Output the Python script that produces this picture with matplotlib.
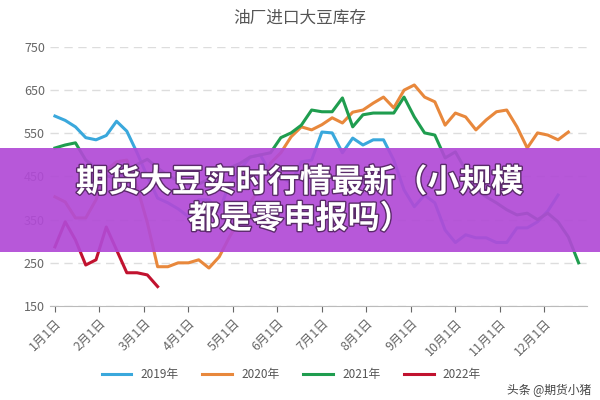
import matplotlib
matplotlib.use("Agg")
import matplotlib.pyplot as plt
from matplotlib.patches import Rectangle
import matplotlib.patheffects as pe
import numpy as np

plt.rcParams['font.family'] = ['Noto Sans CJK SC', 'DejaVu Sans']

months = [f"{i}月1日" for i in range(1, 13)]
s2019 = [590,580,565,540,535,545,578,555,505,450,400,389,375,357,396,396,368,435,465,495,500,458,449,435,484,488,553,551,505,539,523,535,535,488,419,380,407,389,326,297,315,308,308,297,297,331,331,345,370,407]
s2020 = [403,391,354,354,396,465,484,488,426,343,241,241,250,250,257,238,264,310,350,389,426,481,505,542,565,558,570,586,574,599,604,620,634,609,650,662,634,623,569,597,588,558,581,600,604,565,516,551,546,535,553]
s2021 = [516,523,528,488,470,452,445,460,478,490,470,452,440,430,432,445,460,470,480,495,500,505,540,551,569,604,600,600,632,565,593,597,597,597,634,588,551,546,493,507,465,419,403,389,373,361,365,350,365,345,310,250]
s2022 = [287,345,303,245,257,333,280,227,227,222,195]
labels = ["2019年", "2020年", "2021年", "2022年"]
colors = ["#3aa8dc", "#e8883c", "#1f9d4f", "#c1122f"]

fig = plt.figure(figsize=(6, 4), dpi=100)
ax = fig.add_axes([0.083, 0.235, 0.895, 0.6475])
for s, c, l in zip([s2019, s2020, s2021, s2022], colors, labels):
    ax.plot(np.arange(len(s)), s, color=c, lw=2.2, label=l)
ax.set_ylim(150, 750)
ax.set_yticks(range(150, 751, 100))
ax.set_xlim(-0.5, 51.8)
ax.set_xticks(np.arange(12) * 52 / 12)
ax.set_xticklabels(months, rotation=45, ha='right', rotation_mode='anchor')
ax.tick_params(colors='#666666', labelsize=9, length=4)
ax.tick_params(axis='y', length=0)
ax.grid(axis='y', ls=(0, (6, 4)), color='#dddddd', lw=1)
for sp in ['top', 'right', 'left']:
    ax.spines[sp].set_visible(False)
ax.spines['bottom'].set_color('#bbbbbb')
ax.set_axisbelow(True)
fig.text(0.5, 0.955, "油厂进口大豆库存", ha='center', va='center', fontsize=12, color='#555555')
ax.legend(loc='upper center', bbox_to_anchor=(0.45, -0.2), ncol=4, frameon=False,
          fontsize=8.5, handlelength=2.5, labelcolor='#555555', columnspacing=2)
fig.text(0.985, 0.025, "头条 @期货小猪", ha='right', va='center', fontsize=8.5, color='#444444')
fig.patches.append(Rectangle((0, 0.37), 1, 0.26, transform=fig.transFigure,
                             facecolor='#b14ad6', alpha=0.92, zorder=10))
fx = [pe.withStroke(linewidth=2, foreground='#5a2a6a')]
fig.text(0.5, 0.543, "期货大豆实时行情最新（小规模", ha='center', va='center', fontsize=23,
         fontweight='bold', color='white', zorder=11, path_effects=fx)
fig.text(0.5, 0.452, "都是零申报吗）", ha='center', va='center', fontsize=23,
         fontweight='bold', color='white', zorder=11, path_effects=fx)
fig.savefig("out.png", dpi=100)
